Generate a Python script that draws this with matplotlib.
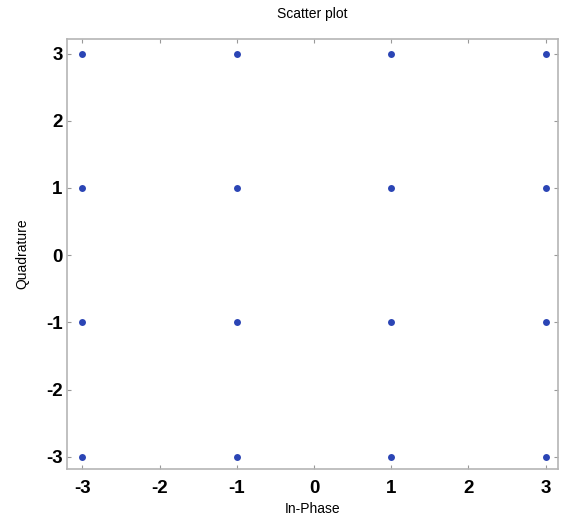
import matplotlib
matplotlib.use("Agg")
import matplotlib.pyplot as plt

# 16-QAM constellation points
in_phase = [-3, -3, -3, -3, -1, -1, -1, -1, 1, 1, 1, 1, 3, 3, 3, 3]
quadrature = [3, 1, -1, -3, 3, 1, -1, -3, 3, 1, -1, -3, 3, 1, -1, -3]
xticks = [-3, -2, -1, 0, 1, 2, 3]
yticks = [-3, -2, -1, 0, 1, 2, 3]

plt.rcParams['font.family'] = ['Liberation Sans', 'DejaVu Sans']
plt.rcParams['axes.unicode_minus'] = False

fig = plt.figure(figsize=(5.62, 5.18), dpi=100)
ax = fig.add_axes([0.119, 0.095, 0.874, 0.830])

ax.plot(in_phase, quadrature, 'o', color='#2b45b5', markersize=5, markeredgewidth=0)

ax.set_xlim(-3.2, 3.16)
ax.set_ylim(-3.18, 3.22)
ax.set_xticks(xticks)
ax.set_yticks(yticks)
ax.tick_params(direction='in', length=3, color='#999999', top=True, right=True,
               labelsize=13.5)
ax.tick_params(axis='y', pad=3)
ax.tick_params(axis='x', pad=8)
for lab in ax.get_xticklabels() + ax.get_yticklabels():
    lab.set_fontweight('bold')
for s in ax.spines.values():
    s.set_color('#b5b5b5')
    s.set_linewidth(1.2)

ax.set_title('Scatter plot', fontsize=10, pad=15)
ax.set_xlabel('In-Phase', fontsize=10, labelpad=4)
ax.set_ylabel('Quadrature', fontsize=10, labelpad=12)

fig.savefig('out.png', dpi=100)
